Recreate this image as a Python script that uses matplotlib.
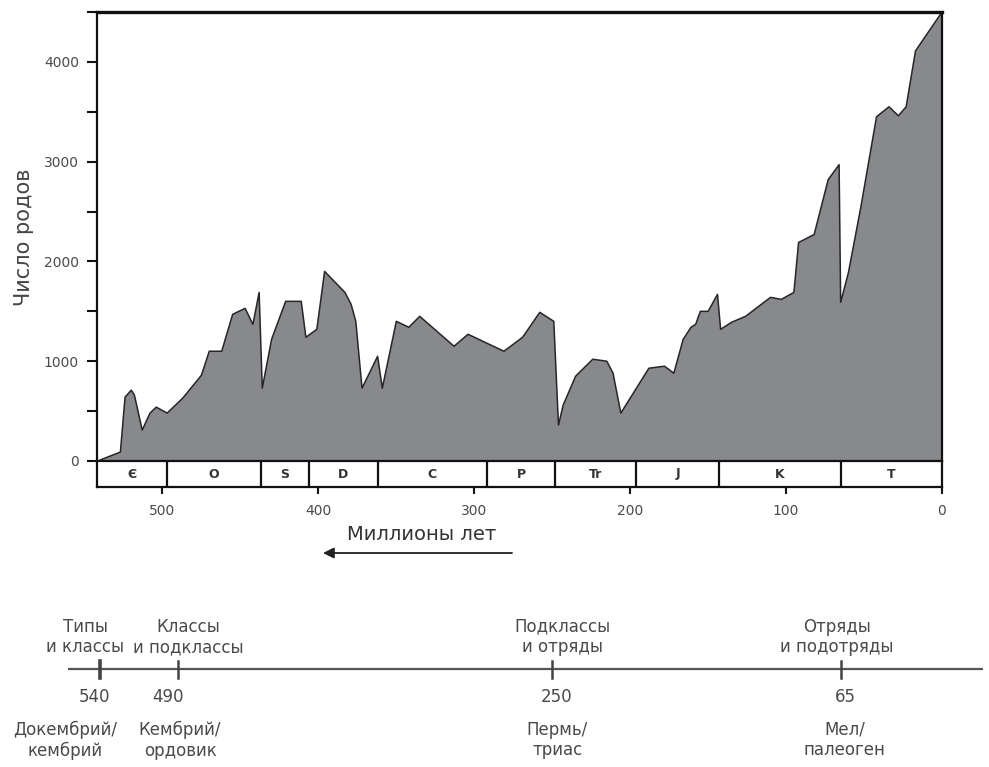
import matplotlib
matplotlib.use("Agg")
import matplotlib.pyplot as plt
from matplotlib.ticker import MultipleLocator
import numpy as np

# ---------------- data ----------------
ma = [540, 527, 524, 520, 518, 513, 508, 504, 497, 487, 475, 470, 462, 455,
      447, 442, 438, 436, 430, 421, 411, 408, 401, 396, 383, 379, 376, 372,
      362, 359, 350, 342, 335, 313, 304, 281, 269, 258, 249, 246, 243, 235,
      224, 215, 211, 206, 188, 178, 172, 166, 161, 158, 155, 150, 144, 142,
      135, 126, 110, 103, 95, 92, 82, 73, 66, 65, 60, 52, 42, 34, 28, 23, 17, 0]
genera = [10, 90, 640, 710, 660, 310, 480, 540, 480, 630, 860, 1100, 1100, 1470,
          1530, 1370, 1690, 730, 1220, 1600, 1600, 1240, 1320, 1900, 1690, 1570, 1400, 730,
          1050, 730, 1400, 1340, 1450, 1150, 1270, 1100, 1240, 1490, 1400, 360, 560, 850,
          1020, 1000, 880, 480, 930, 950, 880, 1220, 1340, 1370, 1500, 1500, 1670, 1320,
          1390, 1450, 1640, 1620, 1690, 2190, 2270, 2820, 2970, 1590, 1890, 2550, 3450, 3550, 3460, 3550, 4110, 4500]

period_bounds = [542, 497, 437, 406, 362, 292, 248, 196, 143, 65, 0]
period_labels = ["Є", "O", "S", "D", "C", "P", "Tr", "J", "K", "T"]

x_ticks = [500, 400, 300, 200, 100, 0]
y_ticks = [0, 1000, 2000, 3000, 4000]

event_ma = [540, 490, 250, 65]
event_top = ["Типы\nи классы", "Классы\nи подклассы", "Подклассы\nи отряды", "Отряды\nи подотряды"]
event_bottom = ["Докембрий/\nкембрий", "Кембрий/\nордовик", "Пермь/\nтриас", "Мел/\nпалеоген"]

ylabel = "Число родов"
xlabel = "Миллионы лет"

# ---------------- layout ----------------
W, H = 989, 767
plt.rcParams['font.family'] = ['DejaVu Sans']

fig = plt.figure(figsize=(W / 100, H / 100), dpi=100)
fig.patch.set_facecolor('white')


def fx(px):
    return px / W


def fy(py):
    return 1 - py / H


L, R = 97, 942
TOP, ZERO, BOXB = 12, 461, 487
XMAX = 542

text_col = '#4a4a4a'

# main area plot
ax = fig.add_axes([fx(L), fy(ZERO), fx(R) - fx(L), fy(TOP) - fy(ZERO)])
ax.fill_between(ma, genera, 0, facecolor='#88898d', edgecolor='none', zorder=1)
ax.plot(ma, genera, color='#262626', lw=1.1, zorder=2)
ax.set_xlim(XMAX, 0)
ax.set_ylim(0, 4500)
ax.set_yticks(y_ticks)
ax.set_yticklabels([str(v) for v in y_ticks], fontsize=10, color=text_col)
ax.yaxis.set_minor_locator(MultipleLocator(500))
ax.tick_params(axis='y', which='both', direction='out', length=7, width=1.5,
               color='#111', pad=6)
ax.set_xticks([])
ax.spines['bottom'].set_visible(False)
ax.spines['top'].set_linewidth(2.4)
ax.spines['left'].set_linewidth(1.6)
ax.spines['right'].set_linewidth(1.6)
for s in ax.spines.values():
    s.set_color('#111')

# period band
ax2 = fig.add_axes([fx(L), fy(BOXB), fx(R) - fx(L), fy(ZERO) - fy(BOXB)])
ax2.set_xlim(XMAX, 0)
ax2.set_ylim(0, 1)
ax2.set_yticks([])
for s in ax2.spines.values():
    s.set_linewidth(1.6)
    s.set_color('#111')
for b in period_bounds[1:-1]:
    ax2.axvline(b, color='#111', lw=1.6)
for i, lab in enumerate(period_labels):
    mid = (period_bounds[i] + period_bounds[i + 1]) / 2
    ax2.text(mid, 0.5, lab, ha='center', va='center', fontsize=9,
             fontweight='bold', color='#333')
ax2.set_xticks(x_ticks)
ax2.set_xticklabels([str(v) for v in x_ticks], fontsize=10, color=text_col)
ax2.tick_params(axis='x', direction='out', length=5, width=1.5, color='#111', pad=7)

# y label
fig.text(fx(24), fy(237), ylabel, rotation=90, ha='center', va='center',
         fontsize=15, color='#444')

# arrow and x label
fig.text(fx(422), fy(534), xlabel, ha='center', va='center', fontsize=14, color='#333')
ax.annotate('', xy=(fx(323), fy(553)), xytext=(fx(512), fy(553)),
            xycoords='figure fraction', textcoords='figure fraction',
            arrowprops=dict(arrowstyle='-|>', color='#222', lw=1.3,
                            mutation_scale=16, shrinkA=0, shrinkB=0))

# bottom timeline
tl = fig.add_axes([fx(L), 0, fx(R) - fx(L), fy(600)])
tl.set_xlim(XMAX, 0)
tl.set_ylim(H, 600)
tl.axis('off')


def ma_of_px(p):
    return XMAX * (R - p) / (R - L)


tl.plot([ma_of_px(68), ma_of_px(983)], [669, 669], color='#555', lw=1.6,
        clip_on=False, solid_capstyle='butt')
top_dx = [-15, 10, 10, -4]
num_dx = [-6, -10, 4, 5]
bot_dx = [-35, 2, 5, 4]
for i, ev in enumerate(event_ma):
    tl.plot([ev, ev], [661, 678], color='#444', lw=1.8 if i else 2.6, clip_on=False)
    tl.annotate(event_top[i], xy=(ev, 637), xytext=(top_dx[i] * 0.72, 0),
                textcoords='offset points', ha='center', va='center',
                fontsize=12, color=text_col, linespacing=1.2, annotation_clip=False)
    tl.annotate(str(ev), xy=(ev, 697), xytext=(num_dx[i] * 0.72, 0),
                textcoords='offset points', ha='center', va='center',
                fontsize=12, color=text_col, annotation_clip=False)
    tl.annotate(event_bottom[i], xy=(ev, 740), xytext=(bot_dx[i] * 0.72, 0),
                textcoords='offset points', ha='center', va='center',
                fontsize=12, color=text_col, linespacing=1.2, annotation_clip=False)

fig.savefig('out.png', dpi=100, facecolor='white')
